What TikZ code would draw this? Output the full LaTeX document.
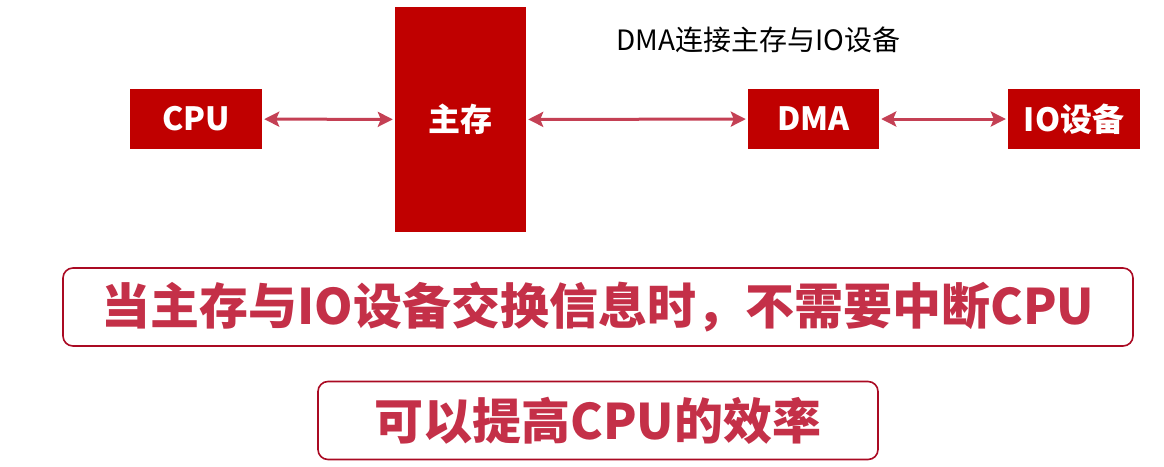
\documentclass[tikz,border=0pt]{standalone}
\usepackage{fontspec}
\setmainfont{Noto Sans CJK SC}
\usetikzlibrary{arrows.meta,positioning}

\definecolor{boxred}{RGB}{192,0,0}
\definecolor{linkred}{RGB}{196,64,84}
\definecolor{noteline}{RGB}{170,10,35}
\definecolor{notetext}{RGB}{196,48,72}

\begin{document}
\begin{tikzpicture}[x=1pt, y=-1pt, >=Stealth,
    unit/.style={fill=boxred, text=white, font=\bfseries\fontsize{32}{36}\selectfont,
      minimum width=132pt, minimum height=60pt, inner sep=0pt},
    link/.style={<->, line width=3pt, linkred, shorten <=2pt, shorten >=2pt,
      >={Stealth[length=15pt,width=15pt,inset=3pt]}},
    note/.style={draw=noteline, line width=1.6pt, rounded corners=10pt, text=notetext,
      font=\bfseries\fontsize{49}{54}\selectfont, minimum height=78pt, inner sep=0pt}]
  \useasboundingbox (0,0) rectangle (1164,466);

  % Units
  \node[unit] (cpu) at (196,119) {CPU};
  \node[unit, minimum height=225pt, minimum width=131pt] (mem) at (460.5,119.5) {主存};
  \node[unit, minimum width=131pt] (dma) at (813.5,119) {DMA};
  \node[unit] (io) at (1074,119) {IO设备};

  % Title
  \node[font=\fontsize{28}{30}\selectfont] (title) at (758,40) {DMA连接主存与IO设备};

  % Links
  \draw[link] (cpu) -- (mem);
  \draw[link] (mem) -- (dma);
  \draw[link] (dma) -- (io);

  % Notes
  \node[note, minimum width=1070pt] (note1) at (598,307) {当主存与IO设备交换信息时，不需要中断CPU};
  \node[note, minimum width=560pt] (note2) at (598,420.5) {可以提高CPU的效率};
\end{tikzpicture}
\end{document}
